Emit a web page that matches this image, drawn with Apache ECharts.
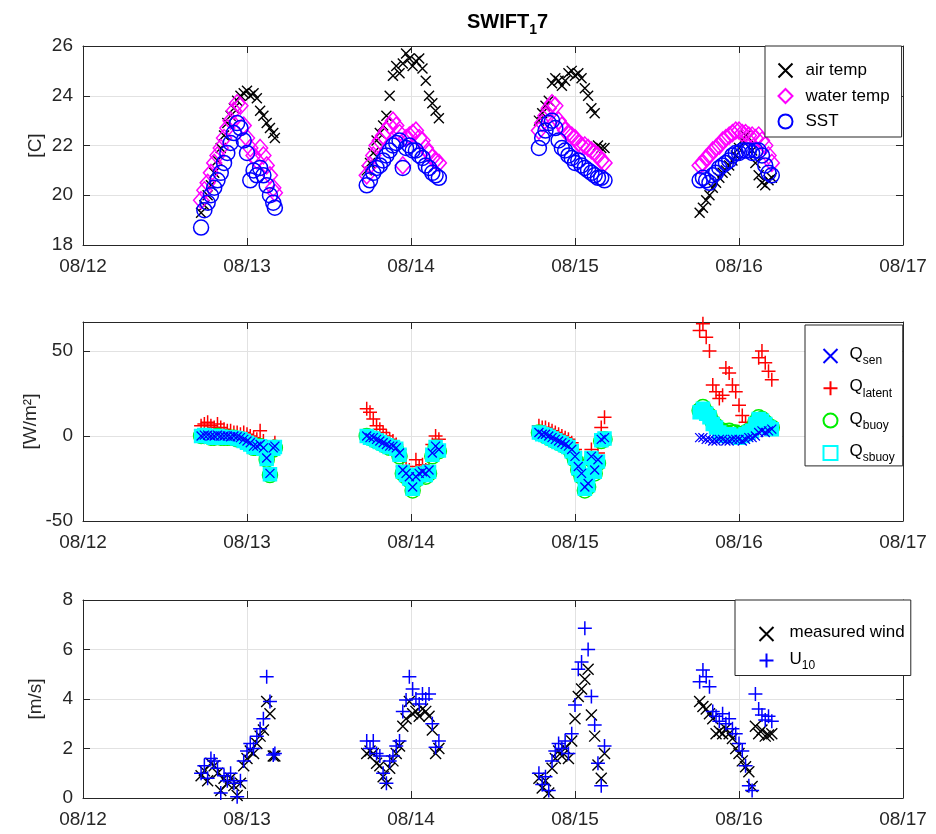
<!DOCTYPE html>
<html><head><meta charset="utf-8">
<script src="https://cdn.jsdelivr.net/npm/echarts@6/dist/echarts.min.js"></script>
<style>html,body{margin:0;padding:0;background:#fff}#chart{width:936px;height:834px}</style>
</head><body><div id="chart"></div>
<script>
// ---- tick labels ----
const dayTickLabels = ['08/12','08/13','08/14','08/15','08/16','08/17'];
const tempTicks = [18,20,22,24,26];
const fluxTicks = [-50,0,50];
const windTicks = [0,2,4,6,8];

// ---- sample times (days after 08/12 00:00) ----
const times = [
 0.72,0.74,0.76,0.78,0.80,0.82,0.84,0.86,0.88,0.90,0.92,0.94,0.96,0.98,1.00,1.02,1.04,1.06,1.08,1.10,1.12,1.14,1.16,1.17,
 1.73,1.75,1.77,1.79,1.81,1.83,1.85,1.87,1.89,1.91,1.93,1.95,1.97,1.99,2.01,2.03,2.05,2.07,2.09,2.11,2.13,2.15,2.17,
 2.78,2.80,2.82,2.84,2.86,2.88,2.90,2.92,2.94,2.96,2.98,3.00,3.02,3.04,3.06,3.08,3.10,3.12,3.14,3.16,3.18,
 3.76,3.78,3.80,3.82,3.84,3.86,3.88,3.90,3.92,3.94,3.96,3.98,4.00,4.02,4.04,4.06,4.08,4.10,4.12,4.14,4.16,4.18,4.20
];

// ---- panel 1: temperatures [C] ----
const airTemp = [
 19.3,19.6,20.0,20.4,20.9,21.4,21.9,22.4,22.9,23.2,23.5,23.8,24.0,24.1,24.2,24.0,24.1,23.9,23.4,23.2,22.9,22.7,22.5,22.3,
 21.0,21.3,21.7,22.2,22.5,22.8,23.2,24.0,24.8,25.2,24.9,25.3,25.7,25.5,25.2,25.4,25.5,25.1,24.6,24.0,23.7,23.4,23.1,
 23.0,23.3,23.6,23.8,24.5,24.7,24.6,24.4,24.6,24.9,25.0,24.8,24.9,24.7,24.3,24.0,23.5,23.3,22.0,21.9,21.9,
 19.3,19.5,19.8,20.0,20.3,20.5,20.7,20.9,21.0,21.2,21.4,21.6,21.9,22.2,22.4,22.3,21.8,21.3,20.8,20.5,20.4,20.6,20.7
];
const waterTemp = [
 19.8,20.2,20.5,20.9,21.3,21.6,21.9,22.3,22.7,23.0,23.4,23.7,23.6,22.8,22.3,21.9,21.6,21.4,21.9,21.6,21.2,20.8,20.3,20.1,
 20.8,21.2,21.6,22.0,22.2,22.4,22.6,22.8,23.0,22.8,22.5,21.2,22.3,22.4,22.5,22.6,22.3,22.2,21.9,21.7,21.5,21.4,21.3,
 22.6,22.9,23.2,23.5,23.7,23.6,23.0,22.8,22.6,22.5,22.4,22.3,22.1,22.0,22.0,21.9,21.8,21.7,21.6,21.4,21.3,
 21.2,21.3,21.5,21.6,21.8,21.9,22.0,22.2,22.3,22.4,22.5,22.6,22.6,22.5,22.5,22.4,22.4,22.3,22.4,22.2,22.0,21.6,21.3
];
const sst = [
 18.7,19.4,19.7,20.0,20.3,20.6,20.9,21.3,21.7,22.1,22.5,22.9,22.7,22.2,21.7,20.6,21.0,20.8,21.1,20.8,20.4,20.0,19.7,19.5,
 20.4,20.6,20.9,21.1,21.2,21.4,21.6,21.8,22.0,22.1,22.2,21.1,21.9,22.0,21.8,21.8,21.6,21.5,21.2,21.1,20.9,20.8,20.7,
 21.9,22.3,22.6,22.9,23.0,22.7,22.2,21.9,21.8,21.6,21.5,21.3,21.4,21.2,21.1,21.0,20.9,20.8,20.7,20.7,20.6,
 20.6,20.7,20.6,20.5,20.8,20.9,21.1,21.2,21.3,21.4,21.6,21.7,21.7,21.8,21.8,21.8,21.7,21.8,21.8,21.6,21.2,20.9,20.8
];

// ---- panel 2: heat fluxes [W/m2] ----
const qSen = [
 0,0.5,0.5,0,0,0.5,0,0,0,-0.5,0,-0.5,-1,-2,-3,-4,-6,-6,-5,-7,-13,-22,-7,-6,
 0,-1,-1,-2,-3,-4,-5,-6,-6,-7,-10,-20,-22,-24,-30,-24,-22,-21,-22,-20,-10,-6,-8,
 2,1,1,0,-1,-2,-3,-4,-5,-6,-8,-12,-18,-22,-30,-28,-12,-20,-14,-2,-1,
 -1,-1,-2,-2,-3,-3,-2,-2,-3,-3,-2,-2,-2,-3,-2,-1,-1,0,2,3,2,3,4
];
const qLatent = [
 6,7,8,6,5,7,5,4,3,3,2,2,1,2,1,0,-1,-2,3,-3,-8,-12,-6,-4,
 16,14,10,6,4,2,0,-2,-3,-5,-8,-18,-18,-20,-28,-14,-18,-17,-20,-18,-5,0,-2,
 6,5,5,4,3,2,1,0,-1,-2,-4,-8,-14,-16,-26,-24,-8,-16,-10,5,11,
 62,66,58,50,30,26,22,24,40,37,30,26,18,12,8,6,4,10,46,50,43,38,33
];
const qBuoy = [
 0,0,0,-1,-1,0,-1,-1,-1,-1,-1,-2,-2,-3,-4,-5,-7,-7,-6,-8,-14,-23,-8,-7,
 0,-1,-2,-3,-4,-5,-6,-7,-7,-8,-12,-22,-24,-26,-32,-26,-24,-23,-24,-22,-12,-7,-9,
 2,1,0,-1,-2,-3,-4,-5,-6,-7,-10,-14,-20,-24,-32,-30,-14,-22,-16,-3,-2,
 15,17,14,12,8,6,4,3,2,3,2,2,1,1,2,3,4,8,11,10,8,6,5
];
const qSbuoy = [
 0,0.5,0,-0.5,-1,0,-0.5,-1,-1,-1,-1,-1.5,-2,-3,-4,-5,-6.5,-7,-6,-7.5,-13.5,-22.5,-7.5,-6.5,
 0,-1,-1.5,-2.5,-3.5,-4.5,-5.5,-6.5,-6.5,-7.5,-11,-21,-23,-25,-31,-25,-23,-22,-23,-21,-11,-6.5,-8.5,
 2,1,0.5,-0.5,-1.5,-2.5,-3.5,-4.5,-5.5,-6.5,-9,-13,-19,-23,-31,-29,-13,-21,-15,-2.5,-1.5,
 14,16,13,11,7,5,2,1,0,1,0,0,-1,0,1,2,3,7,10,9,7,5,4
];

// ---- panel 3: wind [m/s] ----
const measuredWind = [
 0.9,1.1,0.7,1.4,1.3,1.0,0.3,0.8,0.6,0.8,0.5,0.1,0.6,1.3,1.6,1.9,1.8,2.2,2.5,2.75,3.9,3.4,1.7,1.7,
 1.8,1.9,1.8,1.4,1.3,0.86,0.6,1.2,1.5,1.8,2.1,2.9,3.2,3.9,3.4,3.5,3.3,3.6,3.5,3.3,2.75,1.8,2.0,
 0.8,0.4,0.7,0.2,1.2,1.6,1.9,1.7,2.0,1.6,2.3,3.2,4.1,4.4,4.8,5.2,3.35,2.5,1.33,0.8,1.8,
 3.9,3.7,3.6,3.4,3.2,2.6,2.7,2.6,2.8,2.6,2.4,2.0,1.8,1.5,1.26,1.06,0.46,2.9,2.6,2.75,2.5,2.55,2.6
];
const u10 = [
 1.0,1.3,0.8,1.6,1.5,1.2,0.2,0.9,0.7,1.0,0.6,0.05,0.7,1.5,1.9,2.2,2.0,2.5,2.8,3.2,4.9,3.9,1.74,1.8,
 2.3,2.0,2.3,1.8,1.7,1.0,0.6,1.5,1.7,2.1,2.3,3.5,3.96,4.9,4.4,4.0,3.8,4.2,4.0,4.2,3.0,2.05,2.3,
 1.0,0.55,0.86,0.3,1.5,1.9,2.2,2.0,2.3,1.8,2.6,3.76,5.2,5.5,6.86,6.0,4.1,2.95,1.4,0.5,2.1,
 4.7,5.17,4.9,4.5,3.5,3.3,3.1,3.4,3.0,3.2,2.8,2.6,2.2,1.9,1.3,0.5,0.3,4.2,3.6,3.35,3.15,3.3,3.1
];

// ---- names ----
const titleParts = ['SWIFT', '1', '7'];
const legend1Names = ['air temp', 'water temp', 'SST'];
const legend2Names = ['Qsen', 'Qlatent', 'Qbuoy', 'Qsbuoy'];
const legend2Subs = {Qsen: 'sen', Qlatent: 'latent', Qbuoy: 'buoy', Qsbuoy: 'sbuoy'};
const legend3Names = ['measured wind', 'U10'];

// ---- styling ----
const FONT = '"Liberation Sans", Arial, Helvetica, sans-serif';
const AX = '#262626';
const GRIDC = '#e2e2e2';
const TICKFS = 19;
const LEGFS = 17;
const X_PATH = 'path://M0,0L10,10M10,0L0,10';
const PLUS_PATH = 'path://M5,0L5,10M0,5L10,5';

function pts(vals) { return times.map((t, i) => [t, vals[i]]); }

const grids = [
  {left: 83, top: 46, width: 820, height: 199, show: false},
  {left: 83, top: 322, width: 820, height: 199, show: false},
  {left: 83, top: 600, width: 820, height: 198, show: false}
];

const xAxes = [];
const yAxes = [];
const yRanges = [
  {min: 18, max: 26, interval: 2, ticks: tempTicks, name: '[C]', gap: 38},
  {min: -50, max: 67, interval: 50, ticks: fluxTicks, name: '[W/m²]', gap: 43},
  {min: 0, max: 8, interval: 2, ticks: windTicks, name: '[m/s]', gap: 38}
];
for (let i = 0; i < 3; i++) {
  ['bottom', 'top'].forEach(pos => {
    xAxes.push({
      type: 'value', gridIndex: i, position: pos, min: 0, max: 5, interval: 1,
      axisLine: {show: true, onZero: false, lineStyle: {color: AX, width: 1}},
      axisTick: {show: true, inside: true, length: 7, lineStyle: {color: AX}},
      axisLabel: {show: pos === 'bottom', margin: 12, color: AX, fontSize: TICKFS, fontFamily: FONT,
        formatter: v => dayTickLabels[Math.round(v)] || ''},
      splitLine: {show: pos === 'bottom', lineStyle: {color: GRIDC, width: 1}}
    });
  });
  const r = yRanges[i];
  ['left', 'right'].forEach(pos => {
    yAxes.push({
      type: 'value', gridIndex: i, position: pos, min: r.min, max: r.max, interval: r.interval,
      name: pos === 'left' ? r.name : '', nameLocation: 'middle', nameGap: r.gap, nameRotate: 90,
      nameMoveOverlap: false,
      nameTextStyle: {color: AX, fontSize: TICKFS, fontFamily: FONT},
      axisLine: {show: true, onZero: false, lineStyle: {color: AX, width: 1}},
      axisTick: {show: true, inside: true, length: 7, lineStyle: {color: AX},
        customValues: r.ticks},
      axisLabel: {show: pos === 'left', margin: 10, color: AX, fontSize: TICKFS, fontFamily: FONT,
        formatter: v => (r.ticks.indexOf(v) >= 0 ? String(v) : '')},
      splitLine: {show: pos === 'left', lineStyle: {color: GRIDC, width: 1}}
    });
  });
}

function sc(name, vals, panel, symbol, size, stroke, fill, bw, z) {
  return {
    type: 'scatter', name: name, xAxisIndex: 2 * panel, yAxisIndex: 2 * panel,
    data: pts(vals), symbol: symbol, symbolSize: size,
    itemStyle: {color: fill || 'none', borderColor: stroke, borderWidth: bw, opacity: 1},
    emphasis: {disabled: true}, silent: true, z: z || 2, animation: false
  };
}

const series = [
  sc('air temp', airTemp, 0, X_PATH, 10, '#000000', null, 1.4, 2),
  sc('water temp', waterTemp, 0, 'diamond', [15, 17], '#ff00ff', null, 1.5, 3),
  sc('SST', sst, 0, 'circle', 15, '#0000ff', null, 1.5, 4),
  sc('Qlatent', qLatent, 1, PLUS_PATH, 14, '#ff0000', null, 1.5, 2),
  sc('Qbuoy', qBuoy, 1, 'circle', 15, '#00ee00', null, 1.5, 3),
  sc('Qsbuoy', qSbuoy, 1, 'rect', 13, '#00ffff', '#00ffff', 1.5, 4),
  sc('Qsen', qSen, 1, X_PATH, 9, '#0000ff', null, 1.3, 5),
  sc('measured wind', measuredWind, 2, X_PATH, 11, '#000000', null, 1.4, 2),
  sc('U10', u10, 2, PLUS_PATH, 14, '#0000ff', null, 1.5, 3)
];

const richLeg = {
  m: {fontSize: LEGFS, lineHeight: 20, verticalAlign: 'top', color: '#000', fontFamily: FONT},
  s: {fontSize: 12, lineHeight: 13, padding: [9, 0, 0, 0], verticalAlign: 'top', color: '#000', fontFamily: FONT}
};

const legendBase = {
  orient: 'vertical', itemWidth: 14, itemHeight: 14, selectedMode: false,
  borderColor: AX, borderWidth: 1, backgroundColor: '#ffffff', borderRadius: 0
};

const option = {
  backgroundColor: '#ffffff',
  animation: false,
  title: {
    text: '{b|' + titleParts[0] + '}{s|' + titleParts[1] + '}{b|' + titleParts[2] + '}',
    left: 462, top: 7,
    textStyle: {rich: {
      b: {fontSize: 20, fontWeight: 'bold', color: '#000', fontFamily: FONT, lineHeight: 22, verticalAlign: 'top'},
      s: {fontSize: 14, fontWeight: 'bold', color: '#000', fontFamily: FONT, lineHeight: 15, padding: [11, 0, 0, 0], verticalAlign: 'top'}
    }}
  },
  grid: grids,
  xAxis: xAxes,
  yAxis: yAxes,
  legend: [
    Object.assign({}, legendBase, {
      data: legend1Names, left: 765, top: 46, itemGap: 6.5, padding: [15, 12, 6, 11],
      textStyle: {fontSize: LEGFS, color: '#000', fontFamily: FONT, padding: [0, 0, 0, 8]}
    }),
    Object.assign({}, legendBase, {
      data: legend2Names.map(n => n === 'Qsbuoy' ? {name: n, itemStyle: {color: 'none'}} : n),
      left: 805, top: 325, itemGap: 11.3, padding: [21, 8, 2, 16],
      formatter: n => '{m|Q}{s|' + legend2Subs[n] + '}',
      textStyle: {fontSize: LEGFS, color: '#000', fontFamily: FONT, padding: [0, 0, 0, 7], rich: richLeg}
    }),
    Object.assign({}, legendBase, {
      data: legend3Names, left: 735, top: 600, itemGap: 7, padding: [24, 6, 4, 22],
      formatter: n => n === 'U10' ? '{m|U}{s|10}' : '{m|' + n + '}',
      textStyle: {fontSize: LEGFS, color: '#000', fontFamily: FONT, padding: [0, 0, 0, 11], rich: richLeg}
    })
  ],
  series: series
};

const chart = echarts.init(document.getElementById('chart'), null, {renderer: 'canvas'});
chart.setOption(option);
</script>
</body></html>
